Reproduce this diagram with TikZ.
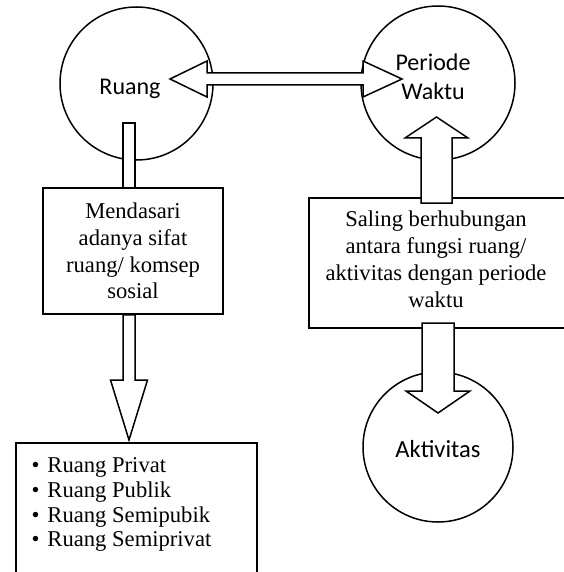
\documentclass[tikz,border=0pt]{standalone}
\usepackage{fontspec}
\setmainfont{Liberation Serif}
\newfontfamily\calibrifont{Carlito}
\usetikzlibrary{calc}
\tikzset{
  circ/.style={draw, circle, line width=1.5pt, inner sep=0pt, fill=white},
  boxst/.style={draw, rectangle, line width=1.5pt, fill=white, inner sep=0pt},
  barrow/.style={draw, line width=1.5pt, fill=white, line join=miter},
  sanslab/.style={font=\calibrifont\fontsize{24}{29}\selectfont, inner sep=0pt, anchor=base},
  serifbox/.style={font=\fontsize{22.6}{26.7}\selectfont, align=center, inner sep=0pt},
  listitem/.style={font=\fontsize{22.6}{24.7}\selectfont, inner sep=0pt, anchor=base west},
}
% vertical block arrow: start, tip, shaft half width, head half width, head length
\newcommand\blockv[5]{%
  \draw[barrow] let \p1=(#1), \p2=(#2), \n1={sign(\y1-\y2)} in
    ({\x2-#3},{\y1}) -- ({\x2-#3},{\y2+\n1*#5}) -- ({\x2-#4},{\y2+\n1*#5}) --
    (\x2,\y2) -- ({\x2+#4},{\y2+\n1*#5}) -- ({\x2+#3},{\y2+\n1*#5}) --
    ({\x2+#3},{\y1}) -- cycle;}
\begin{document}
\begin{tikzpicture}[x=1pt,y=-1pt]
\useasboundingbox (0,0) rectangle (563,572);
\fill[white] (0,0) rectangle (563,572);

% circles
\node[circ, minimum size=153pt] (ruang) at (136.5,83.5) {};
\node[circ, minimum size=154pt] (periode) at (438,83) {};
\node[circ, minimum size=150pt] (aktiv) at (438,447) {};

% boxes
\node[boxst, serifbox, minimum width=180pt, minimum height=126pt] (mend) at (133,251)
  {Mendasari\\adanya sifat\\ruang/ komsep\\sosial};
\node[boxst, minimum width=272pt, minimum height=130pt, anchor=north west] (saling) at (308,197) {};
\node[serifbox, font=\fontsize{22.6}{26.9}\selectfont] (salingtxt) at (436,259)
  {Saling berhubungan\\antara fungsi ruang/\\aktivitas dengan periode\\waktu};
\node[boxst, minimum width=241pt, minimum height=150pt, anchor=north west] (list) at (15,442) {};

% list items
\node[listitem] (it1) at (31.5,472.7) {\textbullet\hspace{7.9pt}Ruang Privat};
\node[listitem] (it2) at (31.5,497.4) {\textbullet\hspace{7.9pt}Ruang Publik};
\node[listitem] (it3) at (31.5,522.1) {\textbullet\hspace{7.9pt}Ruang Semipubik};
\node[listitem] (it4) at (31.5,546.8) {\textbullet\hspace{7.9pt}Ruang Semiprivat};

% circle labels
\node[sanslab] (ruangtxt) at (130,95) {Ruang};
\node[sanslab] (periodetxt) at (433,71) {Periode};
\node[sanslab] (waktutxt) at (433,100) {Waktu};
\node[sanslab, font=\calibrifont\fontsize{24.6}{29}\selectfont] (aktivtxt) at (438,457) {Aktivitas};

% connector end points
\coordinate (hl) at (170,79);
\coordinate (hr) at (402,79);
\coordinate (s1) at (129,123);
\coordinate (t1) at (129,440);
\coordinate (s2) at (436.5,203);
\coordinate (t2) at (436.5,117);
\coordinate (s3) at (438,323);
\coordinate (t3) at (438,413);

% double arrow Ruang <-> Periode Waktu
\draw[barrow] let \p1=(hl), \p2=(hr) in
  (\x1,\y1) -- ({\x1+37pt},{\y1+18pt}) -- ({\x1+37pt},{\y1+6pt}) --
  ({\x2-39pt},{\y1+6pt}) -- ({\x2-39pt},{\y1+18pt}) -- (\x2,\y2) --
  ({\x2-39pt},{\y1-18pt}) -- ({\x2-39pt},{\y1-6pt}) --
  ({\x1+37pt},{\y1-6pt}) -- ({\x1+37pt},{\y1-18pt}) -- cycle;

% Ruang -> box shaft
\draw[barrow] let \p1=(s1), \p2=(mend.north) in ({\x1-6pt},\y1) rectangle ({\x1+6pt},\y2);
% box -> list
\blockv{mend.south -| t1}{t1}{6pt}{18.5pt}{60pt}
% box -> Periode Waktu
\blockv{s2}{t2}{15.5pt}{31.5pt}{21pt}
% box -> Aktivitas
\blockv{s3}{t3}{16pt}{32pt}{22pt}
\end{tikzpicture}
\end{document}
